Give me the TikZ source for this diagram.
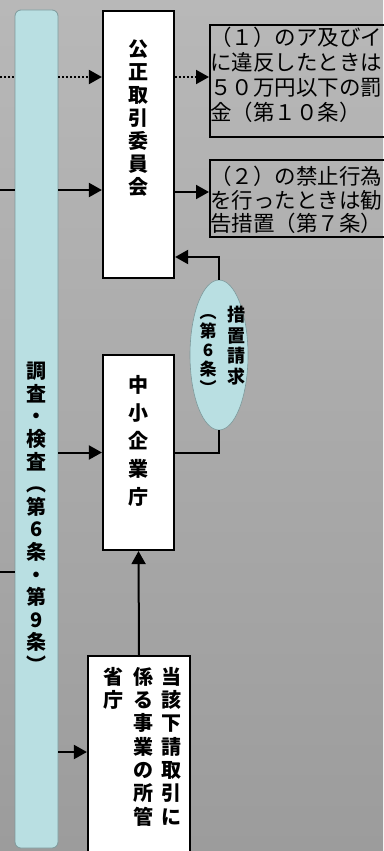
\documentclass[tikz,border=0pt]{standalone}
\usepackage{fontspec}
\newfontfamily\jp{Noto Sans CJK JP}
\usetikzlibrary{arrows.meta,shapes.geometric}
\definecolor{bgtop}{HTML}{B8B8B8}
\definecolor{bgbot}{HTML}{9C9C9C}
\definecolor{barcol}{HTML}{B9DFE2}
\definecolor{barline}{HTML}{7E9A9C}
\tikzset{
  box/.style={draw=black, line width=2.2pt, fill=white, inner sep=0pt},
  tbox/.style={draw=black, line width=2pt, inner sep=0pt},
  conn/.style={line width=2pt, black},
  arr/.style={conn, -{Triangle[length=13pt,width=14pt]}},
  dotline/.style={dash pattern=on 2pt off 2pt},
  htext/.style={align=left, inner sep=0pt, anchor=north west},
}
\begin{document}
\begin{tikzpicture}[x=1pt, y=-1pt]
\useasboundingbox (0,0) rectangle (383,851);
\shade[top color=bgtop, bottom color=bgbot] (0,0) rectangle (383,851);

% left bar
\node[draw=barline, line width=0.8pt, fill=barcol, rounded corners=6pt,
      minimum width=43, minimum height=838, inner sep=0pt] (bar) at (36.5,429) {};
\node[align=center, inner sep=0pt, anchor=north,
      font=\jp\bfseries\fontsize{20pt}{22.6pt}\selectfont] (bartext) at (37,362)
  {調\\査\\・\\検\\査\\︵\\第\\6\\条\\・\\第\\9\\条\\︶};

% 公正取引委員会
\node[box, minimum width=71, minimum height=267] (kousei) at (138.5,144.5) {};
\node[align=center, inner sep=0pt, anchor=north,
      font=\jp\bfseries\fontsize{20pt}{23pt}\selectfont] (kouseit) at (138.5,40)
  {公\\正\\取\\引\\委\\員\\会};

% result boxes
\node[tbox, minimum width=180, minimum height=112, anchor=north west] (pen1) at (209,24) {};
\node[htext, font=\jp\fontsize{21.5pt}{25pt}\selectfont] (pen1t) at (210,27)
  {（１）のア及びイ\\に違反したときは\\５０万円以下の罰\\金（第１０条）};
\node[tbox, minimum width=180, minimum height=77, anchor=north west] (pen2) at (209,159) {};
\node[htext, font=\jp\fontsize{21.5pt}{23.5pt}\selectfont] (pen2t) at (210,166)
  {（２）の禁止行為\\を行ったときは勧\\告措置（第７条）};

% ellipse
\node[ellipse, draw=barline, line width=0.6pt, fill=barcol,
      minimum width=58, minimum height=150, inner sep=0pt] (ell) at (219,355) {};
\node[align=center, inner sep=0pt, anchor=north,
      font=\jp\bfseries\fontsize{18pt}{20.5pt}\selectfont] (ellt1) at (236,306)
  {措\\置\\請\\求};
\node[align=center, inner sep=0pt, anchor=north,
      font=\jp\bfseries\fontsize{17pt}{19pt}\selectfont] (ellt2) at (208,314)
  {︵\\第\\6\\条\\︶};

% 中小企業庁
\node[box, minimum width=71, minimum height=195] (chusho) at (138.5,452.5) {};
\node[align=center, inner sep=0pt, anchor=north,
      font=\jp\bfseries\fontsize{20pt}{28pt}\selectfont] (chushot) at (138.5,375)
  {中\\小\\企\\業\\庁};

% 当該下請取引に係る事業の所管省庁
\node[box, minimum width=102, minimum height=230, anchor=north] (touga) at (139,655) {};
\node[align=center, inner sep=0pt, anchor=north,
      font=\jp\bfseries\fontsize{20pt}{23.3pt}\selectfont] (tougat1) at (171,667)
  {当\\該\\下\\請\\取\\引\\に};
\node[align=center, inner sep=0pt, anchor=north,
      font=\jp\bfseries\fontsize{20pt}{23.3pt}\selectfont] (tougat2) at (143,667)
  {係\\る\\事\\業\\の\\所\\管};
\node[align=center, inner sep=0pt, anchor=north,
      font=\jp\bfseries\fontsize{20pt}{23.3pt}\selectfont] (tougat3) at (113,667)
  {省\\庁};

% connectors
\coordinate (in1) at (0,77);
\coordinate (in2) at (0,190);
\coordinate (in3) at (0,572);
\coordinate (y257) at (0,257);
\coordinate (y192) at (0,192);
\coordinate (y752) at (0,752);

\draw[conn, dotline] (in1) -- (bar.west |- in1);
\draw[arr, dotline] (bar.east |- in1) -- (kousei.west |- in1);
\draw[arr, dotline] (kousei.east |- in1) -- (pen1.west |- in1);

\draw[conn] (in2) -- (bar.west |- in2);
\draw[arr] (bar.east |- in2) -- (kousei.west |- in2);
\draw[arr] (kousei.east |- y192) -- (pen2.west |- y192);

\draw[arr] (ell.north) |- (kousei.east |- y257);
\draw[conn] (ell.south) |- (chusho.east);

\draw[arr] (bar.east |- chusho.west) -- (chusho.west);
\draw[conn] (in3) -- (bar.west |- in3);
\draw[arr] (bar.east |- y752) -- (touga.west |- y752);
\draw[arr] (touga.north) -- (chusho.south);
\end{tikzpicture}
\end{document}
